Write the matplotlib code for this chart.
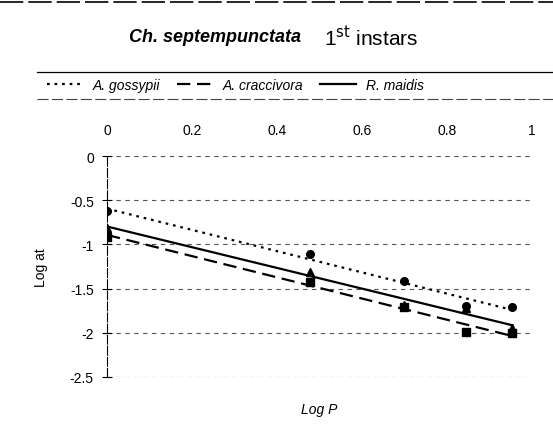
import numpy as np
import matplotlib
matplotlib.use("Agg")
import matplotlib.pyplot as plt
from matplotlib.lines import Line2D

plt.rcParams['font.family'] = ['Liberation Sans', 'DejaVu Sans']

# log of prey density
log_p = [0, 0.477, 0.699, 0.845, 0.954]
# log attack rate per prey species
gossypii = [-0.62, -1.11, -1.41, -1.70, -1.71]
craccivora = [-0.91, -1.42, -1.71, -1.99, -2.00]
maidis = [-0.81, -1.31, -1.68, -1.72, -1.95]

series_names = ["A. gossypii", "A. craccivora", "R. maidis"]
x_ticks = [0, 0.2, 0.4, 0.6, 0.8, 1]
x_tick_labels = ["0", "0.2", "0.4", "0.6", "0.8", "1"]
y_ticks = [0, -0.5, -1, -1.5, -2, -2.5]
y_tick_labels = ["0", "-0.5", "-1", "-1.5", "-2", "-2.5"]

fig = plt.figure(figsize=(5.53, 4.27), dpi=100)
ax = fig.add_axes([0.1935, 0.1148, 0.7685, 0.5172])

styles = [('o', (0, (1.2, 2.2))), ('s', (0, (6, 3))), ('^', None)]
for ys, name, (mk, dash) in zip([gossypii, craccivora, maidis], series_names, styles):
    slope, icpt = np.polyfit(log_p, ys, 1)
    xx = np.array([log_p[0], log_p[-1]])
    line, = ax.plot(xx, icpt + slope * xx, color='black', lw=1.6, label=name)
    if dash is not None:
        line.set_linestyle(dash)
    ax.plot(log_p, ys, linestyle='none', marker=mk, color='black', markersize=5.5)

ax.set_xlim(0, 1)
ax.set_ylim(-2.5, 0)
ax.xaxis.tick_top()
ax.set_xticks(x_ticks)
ax.set_xticklabels(x_tick_labels)
ax.set_yticks(y_ticks)
ax.set_yticklabels(y_tick_labels)
ax.tick_params(axis='x', length=0, pad=14, labelsize=10)
ax.tick_params(axis='y', direction='inout', length=7, width=0.8, labelsize=10, pad=6)
for s in ['right', 'bottom', 'top']:
    ax.spines[s].set_visible(False)
ax.spines['left'].set_linewidth(0.8)
ax.spines['left'].set_linestyle((0, (8, 2)))
ax.yaxis.grid(True, color='#555555', linestyle=(0, (4, 4)), linewidth=0.8)
ax.set_axisbelow(True)

ax.set_ylabel("Log at", fontsize=10, labelpad=16)
ax.set_xlabel("Log P", fontsize=10, fontstyle='italic')
ax.xaxis.set_label_position('bottom')
ax.xaxis.labelpad = 18

# title
fig.text(0.545, 0.912, "Ch. septempunctata", fontsize=13, fontweight='bold',
         fontstyle='italic', ha='right', va='center')
fig.text(0.585, 0.912, r"1$^{\mathrm{st}}$ instars", fontsize=15, ha='left', va='center')

# legend band
handles, labels = ax.get_legend_handles_labels()
leg = fig.legend(handles, labels, loc='center', bbox_to_anchor=(0.425, 0.798), ncol=3,
                 frameon=False, handlelength=2.6, handletextpad=0.7, columnspacing=1.2,
                 prop={'style': 'italic', 'size': 10})
fig.add_artist(Line2D([0.067, 1.0], [0.829, 0.829], color='black', lw=0.9,
                      transform=fig.transFigure))
fig.add_artist(Line2D([0.067, 1.0], [0.766, 0.766], color='#444444', lw=0.8,
                      linestyle=(0, (10, 3)), transform=fig.transFigure))
fig.add_artist(Line2D([0.0, 1.0], [0.994, 0.994], color='black', lw=1.2,
                      linestyle=(0, (14, 3)), transform=fig.transFigure))

fig.savefig("out.png", dpi=100)
